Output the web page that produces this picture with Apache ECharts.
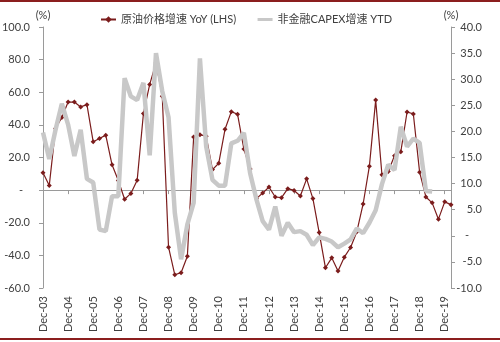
<!DOCTYPE html>
<html>
<head>
<meta charset="utf-8">
<script src="https://cdn.jsdelivr.net/npm/echarts@6/dist/echarts.min.js"></script>
<style>
html,body{margin:0;padding:0;background:#fff;}
#c{width:500px;height:342px;}
</style>
</head>
<body>
<div id="c"></div>
<script>
var categories = [
 'Dec-03','Mar-04','Jun-04','Sep-04','Dec-04','Mar-05','Jun-05','Sep-05',
 'Dec-05','Mar-06','Jun-06','Sep-06','Dec-06','Mar-07','Jun-07','Sep-07',
 'Dec-07','Mar-08','Jun-08','Sep-08','Dec-08','Mar-09','Jun-09','Sep-09',
 'Dec-09','Mar-10','Jun-10','Sep-10','Dec-10','Mar-11','Jun-11','Sep-11',
 'Dec-11','Mar-12','Jun-12','Sep-12','Dec-12','Mar-13','Jun-13','Sep-13',
 'Dec-13','Mar-14','Jun-14','Sep-14','Dec-14','Mar-15','Jun-15','Sep-15',
 'Dec-15','Mar-16','Jun-16','Sep-16','Dec-16','Mar-17','Jun-17','Sep-17',
 'Dec-17','Mar-18','Jun-18','Sep-18','Dec-18','Mar-19','Jun-19','Sep-19',
 'Dec-19','Mar-20'
];
var oilYoY = [
 10.6, 2.9, 37.8, 44.5, 54, 54, 51, 52.4,
 29.6, 31.7, 33.7, 15.5, 5.9, -5.6, -2, 6,
 47, 64.8, 78, 57.6, -35, -51.9, -50.6, -40.5,
 32.5, 34, 33, 12.6, 16.5, 37.3, 48.1, 46.5,
 25.2, 13, -5.2, -1.8, 1.9, -4.2, -4.6, 0.9,
 -0.2, -3.6, 6.9, -5.2, -26, -47.6, -41.5, -49.6,
 -41.1, -35.2, -25.5, -8.5, 14.7, 55.2, 9.4, 11.4,
 21.1, 23.5, 47.9, 46.7, 11, -4.2, -7.8, -17.8,
 -7.2, -8.9
];
var capexYTD = [
 19.8, 14.7, 20.3, 25.3, 21.3, 15.3, 20.3, 10.9,
 10.2, 1.2, 0.9, 7.6, 7.6, 30.2, 26.7, 26,
 29.3, 15.4, 35, 27.7, 22.7, 4.4, -4.5, 2.2,
 6.3, 34, 17.1, 10.7, 9.6, 9.6, 17.7, 18.2,
 19.7, 12, 7, 2.8, 1.2, 5.6, 0, 2.5,
 0.7, 0.9, 0.2, -1.8, -0.3, -0.6, -1.1, -2.2,
 -1.5, -0.7, 1.4, 0.5, 2.5, 4.9, 9.9, 13.6,
 12.6, 20.9, 17.1, 18.6, 17.8, 8.6, 8.5
];
var seriesNames = ['原油价格增速 YoY (LHS)', '非金融CAPEX增速 YTD'];
var leftTicks = {min: -60, max: 100, step: 20};
var rightTicks = {min: -10, max: 40, step: 5};

var RED = '#7b1c1c';
var GRAY = '#c8c8c8';
var TXT = '#404040';
var AX = '#9a9a9a';
var FONT = 'Lato, "Liberation Sans", sans-serif';

function fmt(v){ return v === 0 ? '{z|-}' : v.toFixed(1); }

var chart = echarts.init(document.getElementById('c'), null, {renderer:'canvas'});
chart.setOption({
  animation: false,
  backgroundColor: '#fff',
  textStyle: {fontFamily: FONT},
  graphic: [
    {type:'rect', shape:{x:0, y:0, width:500, height:2}, style:{fill:'#8b1e1e'}},
    {type:'rect', shape:{x:0, y:338, width:500, height:2}, style:{fill:'#8b1e1e'}}
  ],
  legend: {
    left: 95, top: 9,
    itemWidth: 15, itemHeight: 8, itemGap: 20,
    textStyle: {color: TXT, fontSize: 11, fontFamily: 'Lato, "Noto Sans CJK SC", sans-serif'},
    data: [
      {name: seriesNames[0]},
      {name: seriesNames[1], itemStyle: {opacity: 0}, lineStyle: {color: GRAY, width: 3}}
    ]
  },
  grid: {left: 43, right: 49, top: 27, bottom: 54, containLabel: false, outerBoundsMode: 'none'},
  xAxis: [
    {
      type: 'category', data: categories, boundaryGap: false, position: 'bottom',
      axisLine: {show: false, onZero: false},
      axisTick: {show: false},
      axisLabel: {interval: 3, rotate: 90, margin: 8, color: TXT, fontSize: 11, fontFamily: FONT}
    },
    {
      type: 'category', data: categories, boundaryGap: false, position: 'bottom',
      axisLine: {show: true, onZero: true, onZeroAxisIndex: 0, lineStyle: {color: AX, width: 1}},
      axisTick: {show: true, interval: 3, length: 4, lineStyle: {color: AX}},
      axisLabel: {show: false}
    }
  ],
  yAxis: [
    {
      type: 'value', min: leftTicks.min, max: leftTicks.max, interval: leftTicks.step,
      position: 'left',
      name: '(%)', nameLocation: 'end', nameGap: 6,
      nameTextStyle: {color: TXT, fontSize: 11, fontFamily: FONT, align: 'center'},
      axisLine: {show: true, lineStyle: {color: AX}},
      axisTick: {show: true, length: 4, lineStyle: {color: AX}},
      splitLine: {show: false},
      axisLabel: {margin: 13, color: TXT, fontSize: 11, fontFamily: FONT, formatter: fmt,
        rich: {z: {padding: [0, 7, 0, 0], color: TXT, fontSize: 11, fontFamily: FONT}}}
    },
    {
      type: 'value', min: rightTicks.min, max: rightTicks.max, interval: rightTicks.step,
      position: 'right',
      name: '(%)', nameLocation: 'end', nameGap: 6,
      nameTextStyle: {color: TXT, fontSize: 11, fontFamily: FONT, align: 'center'},
      axisLine: {show: true, lineStyle: {color: AX}},
      axisTick: {show: true, length: 4, lineStyle: {color: AX}},
      splitLine: {show: false},
      axisLabel: {margin: 31, align: 'right', color: TXT, fontSize: 11, fontFamily: FONT, formatter: fmt,
        rich: {z: {padding: [0, 13, 0, 0], color: TXT, fontSize: 11, fontFamily: FONT}}}
    }
  ],
  series: [
    {
      name: seriesNames[0], type: 'line', xAxisIndex: 0, yAxisIndex: 0,
      data: oilYoY, z: 2,
      symbol: 'diamond', symbolSize: 5, showSymbol: true, showAllSymbol: true,
      lineStyle: {color: RED, width: 1.2},
      itemStyle: {color: RED}
    },
    {
      name: seriesNames[1], type: 'line', xAxisIndex: 0, yAxisIndex: 1,
      data: capexYTD, z: 3,
      symbol: 'none', showSymbol: false,
      lineStyle: {color: GRAY, width: 4.5},
      itemStyle: {color: GRAY}
    }
  ]
});
</script>
</body>
</html>
